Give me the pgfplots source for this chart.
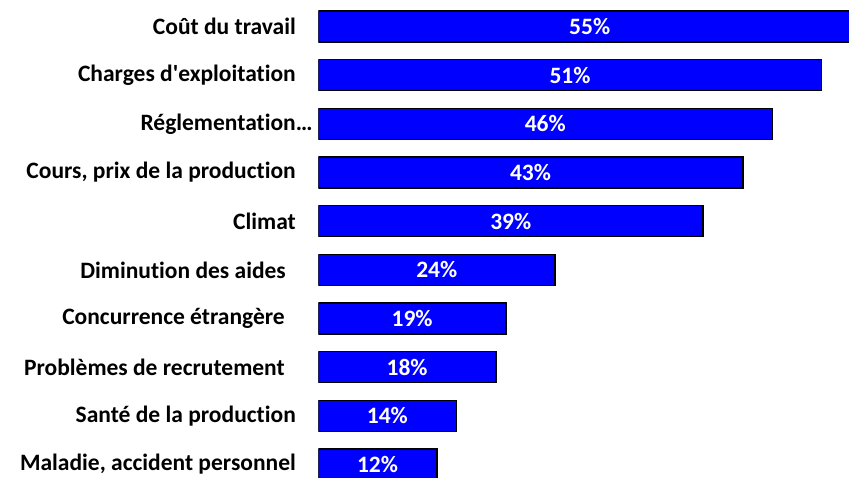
\documentclass[border=0pt]{standalone}
\usepackage{fontspec}
\setmainfont{Carlito}[Ligatures={NoCommon}]
\usepackage{pgfplots}
\usepackage{pgfplotstable}
\pgfplotsset{compat=1.18}
\definecolor{barblue}{HTML}{0000FF}

% y = rank from the top, v = share in percent
\pgfplotstableread{
y v
0 55
1 51
2 46
3 43
4 39
5 24
6 19
7 18
8 14
9 12
}\data

\begin{document}
\begin{tikzpicture}
\useasboundingbox (0,0) rectangle (849bp,478bp);
\begin{axis}[
    at={(318.3bp,0)}, anchor=south west,
    scale only axis,
    width=530.7bp, height=478bp,
    xmin=0, xmax=53.77,
    ymin=-0.5445, ymax=9.277,
    y dir=reverse,
    axis line style={draw=none},
    major tick length=0pt,
    xtick=\empty,
    ytick={0,...,9},
    yticklabels={
        Coût du travail,
        Charges d\textquotesingle exploitation,
        Réglementation\rlap{…},
        {Cours, prix de la production},
        Climat,
        Diminution des aides\rule{10bp}{0pt},
        Concurrence étrangère\rule{11bp}{0pt},
        Problèmes de recrutement\rule{11bp}{0pt},
        Santé de la production,
        {Maladie, accident personnel}},
    yticklabel style={font=\fontsize{23.5bp}{26bp}\selectfont\bfseries,
        anchor=east, inner sep=0pt, xshift=-22.3bp},
]
\addplot[xbar, bar width=31bp, bar shift=0pt, fill=barblue, draw=black,
    line width=1.6bp] table[x=v, y=y] {\data};
\addplot[draw=none, mark=none, point meta=explicit symbolic,
    nodes near coords={\pgfplotspointmeta\%},
    nodes near coords style={font=\fontsize{23.5bp}{26bp}\selectfont\bfseries,
        text=white, anchor=center}]
    table[x expr=\thisrow{v}/2, y=y, meta=v] {\data};
\end{axis}
\end{tikzpicture}
\end{document}
